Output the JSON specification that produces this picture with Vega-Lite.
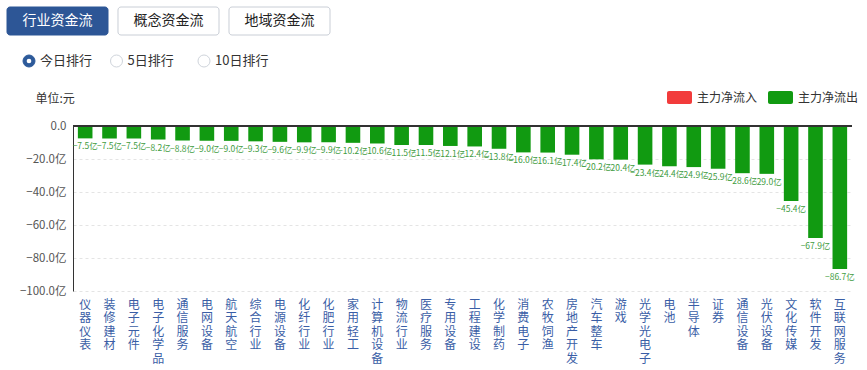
{
  "$schema": "https://vega.github.io/schema/vega-lite/v6.json",
  "width": 779,
  "height": 165,
  "autosize": {"type": "none"},
  "padding": {"left": 73, "top": 126, "right": 15, "bottom": 79},
  "background": "white",
  "config": {"font": "Noto Sans CJK SC", "view": {"stroke": null}},
  "datasets": {
    "flows": [
      {"industry": "仪器仪表", "value": -7.5, "flow": "主力净流出"},
      {"industry": "装修建材", "value": -7.5, "flow": "主力净流出"},
      {"industry": "电子元件", "value": -7.5, "flow": "主力净流出"},
      {"industry": "电子化学品", "value": -8.2, "flow": "主力净流出"},
      {"industry": "通信服务", "value": -8.8, "flow": "主力净流出"},
      {"industry": "电网设备", "value": -9.0, "flow": "主力净流出"},
      {"industry": "航天航空", "value": -9.0, "flow": "主力净流出"},
      {"industry": "综合行业", "value": -9.3, "flow": "主力净流出"},
      {"industry": "电源设备", "value": -9.6, "flow": "主力净流出"},
      {"industry": "化纤行业", "value": -9.9, "flow": "主力净流出"},
      {"industry": "化肥行业", "value": -9.9, "flow": "主力净流出"},
      {"industry": "家用轻工", "value": -10.2, "flow": "主力净流出"},
      {"industry": "计算机设备", "value": -10.6, "flow": "主力净流出"},
      {"industry": "物流行业", "value": -11.5, "flow": "主力净流出"},
      {"industry": "医疗服务", "value": -11.5, "flow": "主力净流出"},
      {"industry": "专用设备", "value": -12.1, "flow": "主力净流出"},
      {"industry": "工程建设", "value": -12.4, "flow": "主力净流出"},
      {"industry": "化学制药", "value": -13.8, "flow": "主力净流出"},
      {"industry": "消费电子", "value": -16.0, "flow": "主力净流出"},
      {"industry": "农牧饲渔", "value": -16.1, "flow": "主力净流出"},
      {"industry": "房地产开发", "value": -17.4, "flow": "主力净流出"},
      {"industry": "汽车整车", "value": -20.2, "flow": "主力净流出"},
      {"industry": "游戏", "value": -20.4, "flow": "主力净流出"},
      {"industry": "光学光电子", "value": -23.4, "flow": "主力净流出"},
      {"industry": "电池", "value": -24.4, "flow": "主力净流出"},
      {"industry": "半导体", "value": -24.9, "flow": "主力净流出"},
      {"industry": "证券", "value": -25.9, "flow": "主力净流出"},
      {"industry": "通信设备", "value": -28.6, "flow": "主力净流出"},
      {"industry": "光伏设备", "value": -29.0, "flow": "主力净流出"},
      {"industry": "文化传媒", "value": -45.4, "flow": "主力净流出"},
      {"industry": "软件开发", "value": -67.9, "flow": "主力净流出"},
      {"industry": "互联网服务", "value": -86.7, "flow": "主力净流出"}
    ],
    "tabs": [
      {"tab": "行业资金流", "on": true},
      {"tab": "概念资金流", "on": false},
      {"tab": "地域资金流", "on": false}
    ],
    "radios": [
      {"item": "今日排行", "on": true},
      {"item": "5日排行", "on": false},
      {"item": "10日排行", "on": false}
    ]
  },
  "layer": [
    {
      "data": {"name": "flows"},
      "encoding": {
        "x": {
          "field": "industry", "type": "nominal", "sort": null,
          "scale": {"paddingInner": 0.4, "paddingOuter": 0.2},
          "axis": {
            "title": null, "domain": false, "ticks": false, "grid": false,
            "labelAngle": 0, "labelBaseline": "top", "labelPadding": 8,
            "labelFontSize": 12, "labelLineHeight": 13.5, "labelColor": "#3a5ea6",
            "labelOverlap": false, "labelBound": false, "labelFlush": false,
            "labelExpr": "split(datum.label, '')"
          }
        },
        "y": {
          "field": "value", "type": "quantitative",
          "scale": {"domain": [-100, 0], "nice": false},
          "axis": {
            "values": [0, -20, -40, -60, -80, -100],
            "grid": true, "gridDash": [3, 3], "gridColor": "#e4e4e4",
            "domain": true, "domainColor": "#333333", "ticks": false,
            "labelPadding": 7, "labelFontSize": 11.5, "labelColor": "#555555",
            "labelExpr": "datum.value == 0 ? '0.0' : format(datum.value, '.1f') + '亿'",
            "title": "单位:元", "titleAngle": 0, "titleAlign": "left",
            "titleBaseline": "middle", "titleX": -38, "titleY": -28,
            "titleFontWeight": "normal", "titleFontSize": 12, "titleColor": "#333333"
          }
        }
      },
      "layer": [
        {
          "mark": {"type": "bar"},
          "encoding": {
            "color": {
              "field": "flow", "type": "nominal",
              "scale": {"domain": ["主力净流入", "主力净流出"], "range": ["#f23b3b", "#119a11"]},
              "legend": {
                "orient": "none", "legendX": 594, "legendY": -41,
                "direction": "horizontal", "title": null, "padding": 0,
                "symbolType": "M-0.84,-0.52 H0.84 A0.16,0.16 0 0 1 1,-0.36 V0.36 A0.16,0.16 0 0 1 0.84,0.52 H-0.84 A0.16,0.16 0 0 1 -1,0.36 V-0.36 A0.16,0.16 0 0 1 -0.84,-0.52 Z",
                "symbolSize": 625, "symbolStrokeWidth": 0, "symbolOpacity": 1,
                "labelFontSize": 12, "labelColor": "#333333", "labelOffset": 5,
                "columnPadding": 10
              }
            }
          }
        },
        {
          "mark": {
            "type": "text", "baseline": "top", "dy": 4, "fontSize": 8.5,
            "color": "#3f9c3f",
            "text": {"expr": "format(datum.value, '.1f') + '亿'"}
          }
        },
        {
          "mark": {"type": "rule", "color": "#333333", "strokeWidth": 1},
          "encoding": {"y": {"datum": 0}, "x": null}
        }
      ]
    },
    {
      "data": {"name": "tabs"},
      "encoding": {
        "x": {
          "field": "tab", "type": "nominal", "sort": null,
          "scale": {"type": "band", "range": [-66, 257], "paddingInner": 0.09, "paddingOuter": 0},
          "axis": null
        },
        "y": {
          "datum": "tabs", "type": "nominal",
          "scale": {"type": "band", "range": [-119, -91], "paddingInner": 0, "paddingOuter": 0},
          "axis": null
        }
      },
      "layer": [
        {
          "mark": {"type": "rect", "cornerRadius": 3, "strokeWidth": 1},
          "encoding": {
            "fill": {"condition": {"test": "datum.on", "value": "#2d5696"}, "value": "#ffffff"},
            "stroke": {"condition": {"test": "datum.on", "value": "#2d5696"}, "value": "#c9ced6"}
          }
        },
        {
          "mark": {"type": "text", "fontSize": 14, "baseline": "middle", "align": "center"},
          "encoding": {
            "text": {"field": "tab"},
            "color": {"condition": {"test": "datum.on", "value": "#ffffff"}, "value": "#222222"}
          }
        }
      ]
    },
    {
      "data": {"name": "radios"},
      "encoding": {
        "x": {
          "field": "item", "type": "nominal", "sort": null,
          "scale": {"type": "point", "range": [-44, 131], "padding": 0},
          "axis": null
        },
        "y": {
          "datum": "radios", "type": "nominal",
          "scale": {"type": "point", "range": [-65, -65], "padding": 0},
          "axis": null
        }
      },
      "layer": [
        {
          "mark": {"type": "point", "shape": "circle", "filled": true, "size": 144, "strokeWidth": 1, "opacity": 1},
          "encoding": {
            "fill": {"condition": {"test": "datum.on", "value": "#2d5a9a"}, "value": "#ffffff"},
            "stroke": {"condition": {"test": "datum.on", "value": "#2d5a9a"}, "value": "#cfd4db"}
          }
        },
        {
          "transform": [{"filter": "datum.on"}],
          "mark": {"type": "point", "shape": "circle", "filled": true, "size": 22, "color": "#ffffff", "opacity": 1}
        },
        {
          "mark": {"type": "text", "fontSize": 13, "align": "left", "baseline": "middle", "dx": 11, "color": "#333333"},
          "encoding": {"text": {"field": "item"}}
        }
      ]
    }
  ],
  "resolve": {"scale": {"x": "independent", "y": "independent"}}
}
